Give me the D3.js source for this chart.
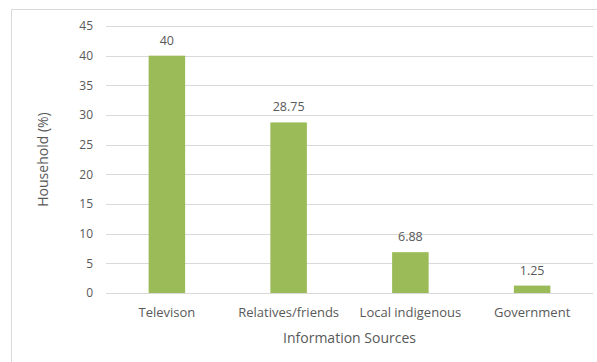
<!DOCTYPE html>
<html><head><meta charset="utf-8">
<script src="https://cdn.jsdelivr.net/npm/d3@7"></script>
<style>body{margin:0;background:#fff;} svg{display:block;} text{font-family:"Open Sans",sans-serif;fill:#595959;}</style>
</head><body><svg id="c" width="597" height="362"></svg>
<script>
const categories = ["Televison", "Relatives/friends", "Local indigenous", "Government"];
const values = [40, 28.75, 6.88, 1.25];
const valueLabels = ["40", "28.75", "6.88", "1.25"];
const yTicks = [0, 5, 10, 15, 20, 25, 30, 35, 40, 45];

const svg = d3.select("#c");
const m = {left:106, right:593, top:26, bottom:293};
svg.append("rect").attr("x",11.5).attr("y",9.5).attr("width",600).attr("height",400)
  .attr("fill","#fff").attr("stroke","#d9d9d9");

const x = d3.scaleBand().domain(categories).range([m.left, m.right]).paddingInner(0.7).paddingOuter(0.35);
const y = d3.scaleLinear().domain([0,45]).range([m.bottom, m.top]);

const g = svg.append("g");
g.selectAll("line.grid").data(yTicks).join("line")
  .attr("x1",m.left).attr("x2",m.right)
  .attr("y1",d=>Math.round(y(d))+0.5).attr("y2",d=>Math.round(y(d))+0.5)
  .attr("stroke","#d9d9d9").attr("stroke-width",1);

g.selectAll("text.yt").data(yTicks).join("text")
  .attr("x",93).attr("y",d=>y(d)).attr("dy","0.35em").attr("text-anchor","end")
  .style("font-size","12px").text(d=>d);

g.selectAll("rect.bar").data(categories).join("rect")
  .attr("x",d=>x(d)).attr("width",x.bandwidth())
  .attr("y",(d,i)=>y(values[i])).attr("height",(d,i)=>y(0)-y(values[i]))
  .attr("fill","#9bbb59");

g.selectAll("text.vl").data(categories).join("text")
  .attr("x",d=>x(d)+x.bandwidth()/2).attr("y",(d,i)=>y(values[i])-11)
  .attr("text-anchor","middle").style("font-size","12.5px").text((d,i)=>valueLabels[i]);

g.selectAll("text.cat").data(categories).join("text")
  .attr("x",d=>x(d)+x.bandwidth()/2).attr("y",317)
  .attr("text-anchor","middle").style("font-size","13px").text(d=>d);

svg.append("text").attr("x",(m.left+m.right)/2).attr("y",343).attr("text-anchor","middle")
  .style("font-size","14px").text("Information Sources");
svg.append("text").attr("transform",`translate(48,${(m.top+m.bottom)/2}) rotate(-90)`)
  .attr("text-anchor","middle").style("font-size","14px").text("Household (%)");
</script></body></html>
